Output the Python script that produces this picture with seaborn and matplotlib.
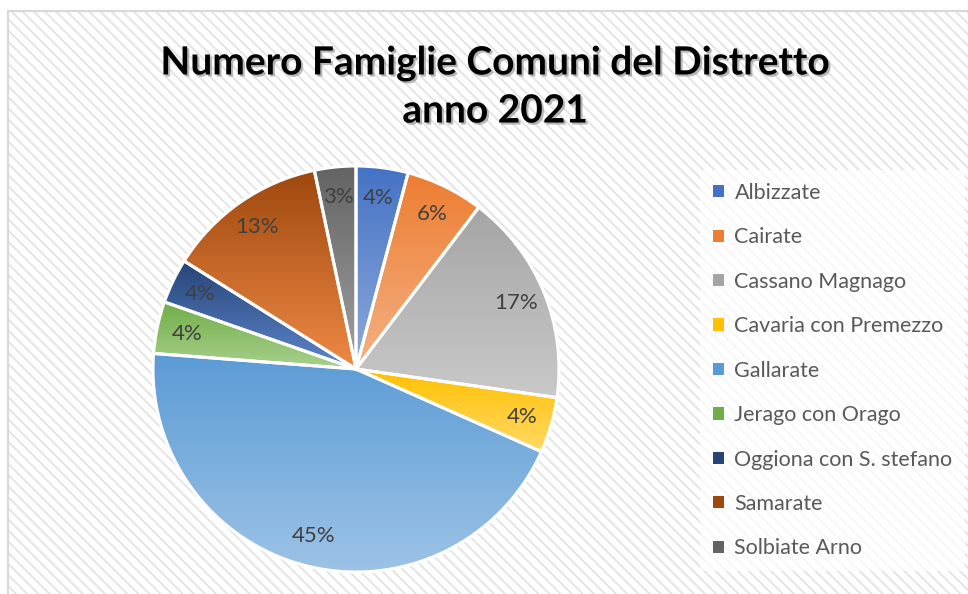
import colorsys

import matplotlib
matplotlib.use("Agg")
import matplotlib.pyplot as plt
import matplotlib.patheffects as pe
from matplotlib.patches import Rectangle, Patch
import numpy as np
import seaborn as sns

# Dati: numero famiglie per comune (anno 2021), stimati dalle percentuali
comuni = ["Albizzate", "Cairate", "Cassano Magnago", "Cavaria con Premezzo",
          "Gallarate", "Jerago con Orago", "Oggiona con S. stefano",
          "Samarate", "Solbiate Arno"]
famiglie = [2200, 3300, 9000, 2350, 23700, 2200, 1900, 6800, 1750]
colori = ["#4472C4", "#ED7D31", "#A5A5A5", "#FFC000", "#5B9BD5",
          "#70AD47", "#264478", "#9E480E", "#636363"]

sns.set_style("white")
plt.rcParams["font.family"] = ["Lato", "DejaVu Sans"]
plt.rcParams["hatch.linewidth"] = 1.4

W, H = 968, 594
fig = plt.figure(figsize=(W / 100, H / 100), dpi=100)
fig.patch.set_facecolor("white")

# sfondo a righe diagonali (stile Excel)
bg = Rectangle((8 / W, -0.05), 1.1, 1 - 11 / H + 0.05, transform=fig.transFigure,
               facecolor="white", edgecolor="#e4e4e4", hatch="\\\\\\", lw=0, zorder=-2)
fig.patches.append(bg)
border = Rectangle((8 / W, -0.05), 1.1, 1 - 11 / H + 0.05, transform=fig.transFigure,
                   facecolor="none", edgecolor="#d9d9d9", lw=1.6, zorder=-1)
fig.patches.append(border)

# asse della torta
cx, cy, r = 356, 369, 203
ax = fig.add_axes([(cx - r) / W, (H - cy - r) / H, 2 * r / W, 2 * r / H])
ax.set_facecolor("none")
ax.patch.set_alpha(0)

palette = sns.color_palette(colori)
wedges, texts, autotexts = ax.pie(
    famiglie, colors=palette, startangle=90, counterclock=False,
    autopct="%1.0f%%", pctdistance=0.85,
    wedgeprops=dict(edgecolor="white", linewidth=2.2),
    textprops=dict(color="#404040", fontsize=16),
)


def schiarisci(c, f):
    h, l, s = colorsys.rgb_to_hls(*c)
    return np.array(colorsys.hls_to_rgb(h, l + (1 - l) * f, s))


# riempimento sfumato per ogni spicchio (scuro in alto, chiaro in basso)
for w, c in zip(wedges, palette):
    top = np.array(c)
    bottom = schiarisci(c, 0.4)
    t = np.linspace(0, 1, 256)[:, None]
    grad = (top[None, :] * (1 - t) + bottom[None, :] * t)[:, None, :]
    ext = w.get_path().get_extents()
    im = ax.imshow(grad, extent=(ext.x0, ext.x1, ext.y0, ext.y1), origin="upper",
                   aspect="auto", zorder=1, interpolation="bilinear")
    im.set_clip_path(w)
    w.set_facecolor("none")
    w.set_zorder(2)
for t in autotexts:
    t.set_zorder(4)

ax.set_xlim(-1.0, 1.0)
ax.set_ylim(-1.0, 1.0)
ax.set_aspect("equal")
ax.axis("off")

# titolo con ombra
fig.text(495 / W, 1 - 87 / H, "Numero Famiglie Comuni del Distretto\nanno 2021",
         ha="center", va="center", fontsize=28, fontweight="bold", color="black",
         linespacing=1.45,
         path_effects=[pe.withSimplePatchShadow(offset=(1.5, -1.5), shadow_rgbFace="#888888", alpha=0.6)])

# legenda
handles = [Patch(facecolor=c, edgecolor="none") for c in palette]
leg = fig.legend(handles, comuni, loc="upper left",
                 bbox_to_anchor=(700 / W, 1 - 170 / H),
                 frameon=True, fontsize=15.5, labelcolor="#595959",
                 handlelength=0.5, handleheight=0.5, handletextpad=0.5,
                 labelspacing=1.135, borderpad=0.6, borderaxespad=0)
leg.get_frame().set_facecolor("white")
leg.get_frame().set_alpha(0.7)
leg.get_frame().set_edgecolor("none")
leg.get_frame().set_boxstyle("square", pad=0)

fig.savefig("out.png", dpi=100)
